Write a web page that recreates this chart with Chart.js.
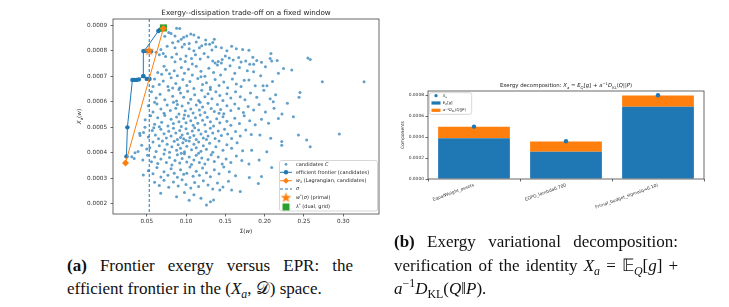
<!DOCTYPE html>
<html lang="en">
<head>
<meta charset="UTF-8">
<title>Exergy frontier and decomposition</title>
<script src="https://cdn.jsdelivr.net/npm/chart.js"></script>
<style>
  body { margin:0; background:#fff; width:729px; height:307px; position:relative; overflow:hidden; }
  canvas { position:absolute; }
  #left { left:0; top:0; }
  #right { left:370px; top:60px; }
  .cap { position:absolute; font-family:"Liberation Serif", serif; font-size:17px; line-height:23.4px; color:#111; }
  .cap div { white-space:nowrap; }
  .cap .j { white-space:normal; text-align:justify; text-align-last:justify; }
  sub, sup { font-size:70%; line-height:0; }
</style>
</head>
<body>
<canvas id="left" width="385" height="240"></canvas>
<canvas id="right" width="359" height="170"></canvas>

<div class="cap" style="left:67px; top:253.6px; width:286px;">
  <div class="j"><b>(a)</b> Frontier exergy versus EPR: the</div>
  <div>efficient frontier in the (<i>X<sub>a</sub></i>, 𝒟) space.</div>
</div>
<div class="cap" style="left:394px; top:230.3px; width:284px;">
  <div class="j"><b>(b)</b> Exergy variational decomposition:</div>
  <div class="j">verification of the identity <i>X<sub>a</sub></i> = 𝔼<sub><i>Q</i></sub>[<i>g</i>] +</div>
  <div><i>a</i><sup>−1</sup><i>D</i><sub>KL</sub>(<i>Q</i>‖<i>P</i>).</div>
</div>

<script>
// ---- left panel: candidates cloud, frontier, optimum markers ----
const candidates = [
  [0.088,0.000889],[0.092,0.000888],[0.078,0.000872],[0.081,0.000868],[0.086,0.000858],[0.097,0.000853],[0.101,0.000858],[0.106,0.000866],
  [0.110,0.000862],[0.094,0.000846],[0.073,0.000857],[0.116,0.000852],[0.125,0.000843],[0.136,0.000846],[0.134,0.000833],
  [0.083,0.000832],[0.090,0.000838],[0.098,0.000826],[0.104,0.000829],[0.113,0.000835],[0.120,0.000820],[0.130,0.000826],[0.125,0.000826],
  [0.138,0.000816],[0.133,0.000803],[0.076,0.000818],[0.068,0.000805],[0.086,0.000812],[0.095,0.000815],[0.104,0.000808],[0.110,0.000800],
  [0.117,0.000812],[0.145,0.000812],[0.152,0.000800],[0.164,0.000808],[0.172,0.000805],[0.180,0.000802],[0.158,0.000818],[0.062,0.000795],
  [0.071,0.000790],[0.208,0.000790],
  [0.066,0.000785],[0.074,0.000778],[0.082,0.000775],[0.088,0.000788],[0.093,0.000768],[0.100,0.000780],[0.107,0.000770],[0.112,0.000785],
  [0.118,0.000768],[0.123,0.000790],[0.128,0.000776],[0.134,0.000760],[0.137,0.000752],[0.141,0.000758],[0.146,0.000766],[0.150,0.000780],
  [0.155,0.000772],[0.160,0.000764],[0.167,0.000774],[0.170,0.000756],[0.176,0.000760],[0.185,0.000775],[0.190,0.000762],[0.196,0.000755],
  [0.207,0.000770],[0.216,0.000762],[0.255,0.000772],[0.258,0.000766],[0.145,0.000752],[0.099,0.000758],[0.086,0.000757],[0.209,0.000760],
  [0.181,0.000747],[0.186,0.000747],
  [0.064,0.000715],[0.069,0.000708],[0.075,0.000725],[0.079,0.000710],[0.085,0.000722],[0.089,0.000702],[0.094,0.000735],[0.098,0.000712],
  [0.103,0.000728],[0.108,0.000705],[0.113,0.000740],[0.119,0.000720],[0.124,0.000700],[0.129,0.000732],[0.135,0.000715],[0.140,0.000745],
  [0.144,0.000705],[0.150,0.000728],[0.156,0.000742],[0.162,0.000712],[0.168,0.000735],[0.178,0.000722],[0.186,0.000718],[0.195,0.000702],
  [0.201,0.000738],[0.2175,0.000712],[0.224,0.000731],[0.2345,0.000725],[0.072,0.000740],[0.108,0.000748],
  [0.060,0.000690],[0.066,0.000668],[0.071,0.000682],[0.077,0.000660],[0.081,0.000695],[0.087,0.000672],[0.092,0.000655],[0.096,0.000688],
  [0.101,0.000664],[0.105,0.000680],[0.110,0.000652],[0.115,0.000692],[0.121,0.000668],[0.126,0.000675],[0.131,0.000657],[0.137,0.000688],
  [0.142,0.000664],[0.148,0.000678],[0.153,0.000655],[0.159,0.000690],[0.164,0.000670],[0.170,0.000660],[0.174,0.000685],[0.180,0.000686],
  [0.188,0.000663],[0.198,0.000663],[0.203,0.000663],[0.210,0.000680],[0.2734,0.000679],[0.3265,0.000679],[0.058,0.000660],[0.083,0.000654],
  [0.119,0.000698],
  [0.056,0.000640],[0.062,0.000615],[0.067,0.000630],[0.073,0.000608],[0.078,0.000645],[0.083,0.000622],[0.088,0.000603],[0.093,0.000635],
  [0.097,0.000618],[0.102,0.000642],[0.106,0.000610],[0.111,0.000628],[0.116,0.000605],[0.120,0.000645],[0.124,0.000620],[0.128,0.000632],
  [0.133,0.000612],[0.138,0.000640],[0.143,0.000625],[0.147,0.000605],[0.152,0.000632],[0.157,0.000615],[0.163,0.000640],[0.169,0.000620],
  [0.175,0.000608],[0.182,0.000635],[0.190,0.000618],[0.199,0.000645],[0.207,0.000612],[0.211,0.000600],[0.2438,0.000618],[0.245,0.000637],
  [0.229,0.000594],[0.214,0.000628],[0.091,0.000648],[0.131,0.000648],
  [0.052,0.000585],[0.058,0.000560],[0.063,0.000592],[0.068,0.000572],[0.072,0.000555],[0.076,0.000588],[0.080,0.000566],[0.084,0.000598],
  [0.087,0.000575],[0.091,0.000552],[0.095,0.000584],[0.099,0.000565],[0.103,0.000595],[0.106,0.000572],[0.109,0.000556],[0.113,0.000588],
  [0.117,0.000568],[0.121,0.000580],[0.124,0.000558],[0.128,0.000594],[0.132,0.000574],[0.136,0.000562],[0.140,0.000590],[0.144,0.000570],
  [0.148,0.000553],[0.152,0.000585],[0.157,0.000566],[0.162,0.000592],[0.167,0.000574],[0.173,0.000558],[0.179,0.000582],[0.186,0.000568],
  [0.193,0.000590],[0.201,0.000560],[0.212,0.000575],[0.222,0.000552],[0.060,0.000598],[0.089,0.000590],[0.118,0.000598],[0.142,0.000555],
  [0.048,0.000530],[0.055,0.000545],[0.060,0.000512],[0.064,0.000538],[0.069,0.000520],[0.073,0.000546],[0.077,0.000505],[0.081,0.000532],
  [0.084,0.000515],[0.088,0.000541],[0.091,0.000522],[0.094,0.000503],[0.097,0.000535],[0.100,0.000518],[0.103,0.000544],[0.106,0.000526],
  [0.109,0.000508],[0.112,0.000538],[0.115,0.000516],[0.118,0.000548],[0.121,0.000528],[0.124,0.000510],[0.127,0.000540],[0.131,0.000522],
  [0.135,0.000505],[0.139,0.000534],[0.143,0.000518],[0.147,0.000542],[0.152,0.000524],[0.157,0.000508],[0.162,0.000536],[0.168,0.000515],
  [0.174,0.000545],[0.181,0.000526],[0.188,0.000510],[0.196,0.000532],[0.205,0.000516],[0.2175,0.000535],[0.2365,0.000542],[0.0478,0.000500],
  [0.066,0.000502],[0.098,0.000548],
  [0.046,0.000480],[0.052,0.000462],[0.057,0.000488],[0.061,0.000470],[0.065,0.000455],[0.068,0.000492],[0.072,0.000475],[0.075,0.000458],
  [0.078,0.000485],[0.081,0.000466],[0.084,0.000496],[0.087,0.000478],[0.089,0.000452],[0.092,0.000488],[0.095,0.000470],[0.097,0.000455],
  [0.100,0.000494],[0.102,0.000476],[0.105,0.000460],[0.108,0.000486],[0.110,0.000468],[0.113,0.000452],[0.116,0.000490],[0.119,0.000474],
  [0.122,0.000458],[0.125,0.000484],[0.128,0.000466],[0.131,0.000496],[0.134,0.000478],[0.137,0.000456],[0.141,0.000486],[0.145,0.000468],
  [0.149,0.000492],[0.153,0.000474],[0.158,0.000456],[0.163,0.000484],[0.169,0.000466],[0.176,0.000490],[0.183,0.000472],[0.194,0.000470],
  [0.2077,0.000457],[0.2218,0.000444],[0.243,0.000470],[0.2535,0.000450],[0.295,0.000474],[0.041,0.000477],[0.0415,0.000468],[0.059,0.000498],
  [0.093,0.000460],[0.111,0.000498],[0.126,0.000452],
  [0.0436,0.000430],[0.050,0.000415],[0.054,0.000420],[0.058,0.000442],[0.062,0.000405],[0.066,0.000428],[0.070,0.000446],[0.073,0.000412],
  [0.076,0.000434],[0.079,0.000402],[0.082,0.000424],[0.085,0.000445],[0.088,0.000410],[0.090,0.000432],[0.093,0.000418],[0.096,0.000440],
  [0.098,0.000404],[0.101,0.000426],[0.104,0.000446],[0.107,0.000412],[0.110,0.000434],[0.113,0.000420],[0.116,0.000442],[0.119,0.000406],
  [0.122,0.000428],[0.126,0.000414],[0.130,0.000438],[0.134,0.000402],[0.138,0.000424],[0.142,0.000446],[0.147,0.000410],[0.152,0.000432],
  [0.158,0.000418],[0.165,0.000440],[0.172,0.000408],[0.1835,0.000410],[0.2027,0.000404],[0.2218,0.000430],[0.258,0.000424],[0.0351,0.000400],
  [0.0390,0.000405],[0.100,0.000448],
  [0.031,0.000385],[0.034,0.000378],[0.045,0.000372],[0.051,0.000390],[0.056,0.000365],[0.060,0.000384],[0.064,0.000358],[0.068,0.000376],
  [0.072,0.000395],[0.075,0.000362],[0.079,0.000382],[0.082,0.000352],[0.086,0.000370],[0.089,0.000392],[0.092,0.000360],[0.095,0.000378],
  [0.098,0.000396],[0.101,0.000364],[0.104,0.000384],[0.107,0.000354],[0.110,0.000372],[0.113,0.000390],[0.117,0.000362],[0.120,0.000380],
  [0.124,0.000356],[0.128,0.000374],[0.132,0.000392],[0.136,0.000366],[0.141,0.000384],[0.146,0.000356],[0.151,0.000376],[0.157,0.000362],
  [0.164,0.000388],[0.171,0.000370],[0.180,0.000356],[0.193,0.000372],[0.094,0.000398],[0.116,0.000398],
  [0.0457,0.000313],[0.052,0.000330],[0.058,0.000318],[0.063,0.000342],[0.068,0.000305],[0.072,0.000326],[0.077,0.000312],[0.081,0.000338],
  [0.085,0.000320],[0.089,0.000304],[0.093,0.000334],[0.097,0.000316],[0.101,0.000320],[0.105,0.000344],[0.109,0.000308],[0.113,0.000328],
  [0.117,0.000312],[0.121,0.000340],[0.126,0.000322],[0.131,0.000306],[0.136,0.000334],[0.142,0.000318],[0.148,0.000344],[0.155,0.000326],
  [0.163,0.000310],[0.1805,0.000303],[0.196,0.000307],[0.209,0.000342],
  [0.060,0.000285],[0.066,0.000272],[0.072,0.000292],[0.078,0.000265],[0.084,0.000286],[0.090,0.000270],[0.095,0.000294],[0.100,0.000276],
  [0.106,0.000262],[0.111,0.000284],[0.116,0.000268],[0.122,0.000290],[0.128,0.000274],[0.134,0.000258],[0.140,0.000282],[0.147,0.000266],
  [0.154,0.000288],[0.192,0.000280],[0.143,0.000254],[0.158,0.000254],
  [0.0678,0.000241],[0.088,0.000228],[0.098,0.000244],[0.110,0.000236],[0.119,0.000222],[0.126,0.000195],[0.135,0.000215],[0.131,0.000208],
  [0.169,0.000248],[0.104,0.000214]
];

const frontierX = [0.0242, 0.0254, 0.0318, 0.0345, 0.0372, 0.0400, 0.0457, 0.0500, 0.0535, 0.0457, 0.0457, 0.0490, 0.0520, 0.0555, 0.0470, 0.0648, 0.0669];
const frontierY = [0.000386, 0.000500, 0.000686, 0.000686, 0.000686, 0.000688, 0.000701, 0.000690, 0.000690, 0.000701, 0.000799, 0.000800, 0.000800, 0.000798, 0.000800, 0.000878, 0.000883];

const lagrangeX = [0.0230, 0.0712];
const lagrangeY = [0.000360, 0.000888];

const sigma = 0.0532;
const primalStar = [0.0530, 0.000800];
const dualSquare = [0.0712, 0.000890];

const leftTicksX = [0.05, 0.10, 0.15, 0.20, 0.25, 0.30];
const leftTicksY = [0.0002, 0.0003, 0.0004, 0.0005, 0.0006, 0.0007, 0.0008, 0.0009];

// ---- right panel: exergy decomposition ----
const methods = ['EqualWeight_assets', 'EDPO_lambda0.700', 'Primal_budget_sigma(q=0.10)'];
const expectedG = [0.000390, 0.000260, 0.000689];
const klTerm = [0.000108, 0.000098, 0.000107];
const exergyXa = [0.000500, 0.000360, 0.000800];

const BLUE = '#1f77b4', ORANGE = '#ff7f0e', GREEN = '#2ca02c';
const FONT = '"DejaVu Sans", sans-serif';

function makeStar(r, color) {
  const c = document.createElement('canvas');
  c.width = c.height = Math.ceil(2 * r + 2);
  const g = c.getContext('2d');
  g.fillStyle = color;
  g.beginPath();
  for (let i = 0; i < 10; i++) {
    const a = -Math.PI / 2 + i * Math.PI / 5;
    const rr = i % 2 ? r * 0.42 : r;
    g.lineTo(c.width / 2 + rr * Math.cos(a), c.height / 2 + rr * Math.sin(a));
  }
  g.closePath();
  g.fill();
  return c;
}
const starImg = makeStar(5.5, ORANGE);

// text with italic / sub / sup pieces: [text, flags]  i=italic b=sub p=sup
function setFont(ctx, flags, size) {
  const s = (flags.includes('b') || flags.includes('p')) ? size * 0.7 : size;
  ctx.font = (flags.includes('i') ? 'italic ' : '') + s + 'px ' + FONT;
}
function richWidth(ctx, parts, size) {
  let w = 0;
  parts.forEach(p => { setFont(ctx, p[1] || '', size); w += ctx.measureText(p[0]).width; });
  return w;
}
function drawRich(ctx, parts, x, y, size, align) {
  let cx = x;
  const w = richWidth(ctx, parts, size);
  if (align === 'center') cx = x - w / 2;
  ctx.textBaseline = 'middle';
  ctx.textAlign = 'left';
  parts.forEach(p => {
    const f = p[1] || '';
    setFont(ctx, f, size);
    let dy = 0;
    if (f.includes('b')) dy = size * 0.3;
    if (f.includes('p')) dy = -size * 0.35;
    ctx.fillText(p[0], cx, y + dy);
    cx += ctx.measureText(p[0]).width;
  });
}

function drawHandle(ctx, kind, cx, cy, w) {
  ctx.save();
  if (kind === 'dot') {
    ctx.fillStyle = 'rgba(31,119,180,0.7)';
    ctx.beginPath(); ctx.arc(cx, cy, 1.4, 0, Math.PI * 2); ctx.fill();
  } else if (kind === 'lineDot' || kind === 'lineDiamond') {
    const col = kind === 'lineDot' ? BLUE : ORANGE;
    ctx.strokeStyle = col; ctx.fillStyle = col; ctx.lineWidth = 1;
    ctx.beginPath(); ctx.moveTo(cx - w / 2, cy); ctx.lineTo(cx + w / 2, cy); ctx.stroke();
    ctx.beginPath();
    if (kind === 'lineDot') ctx.arc(cx, cy, 2.2, 0, Math.PI * 2);
    else { ctx.moveTo(cx, cy - 3); ctx.lineTo(cx + 3, cy); ctx.lineTo(cx, cy + 3); ctx.lineTo(cx - 3, cy); ctx.closePath(); }
    ctx.fill();
  } else if (kind === 'dash') {
    ctx.strokeStyle = BLUE; ctx.lineWidth = 1; ctx.setLineDash([3, 2]);
    ctx.beginPath(); ctx.moveTo(cx - w / 2, cy); ctx.lineTo(cx + w / 2, cy); ctx.stroke();
  } else if (kind === 'star') {
    ctx.drawImage(starImg, cx - starImg.width / 2, cy - starImg.height / 2);
  } else if (kind === 'square') {
    ctx.fillStyle = GREEN; ctx.fillRect(cx - 3.5, cy - 3.5, 7, 7);
  } else if (kind === 'xa') {
    ctx.fillStyle = BLUE;
    ctx.beginPath(); ctx.arc(cx, cy, 1.6, 0, Math.PI * 2); ctx.fill();
  } else if (kind === 'patchBlue' || kind === 'patchOrange') {
    ctx.fillStyle = kind === 'patchBlue' ? BLUE : ORANGE;
    ctx.fillRect(cx - w / 2, cy - 1.6, w, 3.2);
  }
  ctx.restore();
}

const decorCfg = {
  left: {
    title: [['Exergy--dissipation trade-off on a fixed window']], titleY: 13.3, titleSize: 7.2,
    xTitle: [['Σ('], ['w', 'i'], [')']], xTitleY: 232, ySize: 5.7,
    yTitle: [['X', 'i'], ['a', 'ib'], ['('], ['w', 'i'], [')']], yTitleX: 80,
    vline: sigma,
    legend: {
      box: [279.5, 160.5, 377.5, 211], hx: 286, hw: 12, tx: 296, size: 5,
      rows: [
        [164.3, 'dot', [['candidates '], ['C', 'i']]],
        [172.3, 'lineDot', [['efficient frontier (candidates)']]],
        [180.7, 'lineDiamond', [['w', 'i'], ['λ', 'ib'], [' (Lagrangian, candidates)']]],
        [189, 'dash', [['σ', 'i']]],
        [197.7, 'star', [['w', 'i'], ['*', 'p'], ['('], ['σ', 'i'], [') (primal)']]],
        [207, 'square', [['λ', 'i'], ['*', 'p'], [' (dual, grid)']]]
      ]
    }
  },
  right: {
    title: [['Exergy decomposition: '], ['X', 'i'], ['a', 'ib'], [' = '], ['E', 'i'], ['Q', 'ib'], ['['], ['g', 'i'], ['] + '],
            ['a', 'i'], ['−1', 'p'], ['D', 'i'], ['KL', 'b'], ['('], ['Q', 'i'], ['||'], ['P', 'i'], [')']],
    titleY: 26, titleSize: 5.4,
    yTitle: [['Components']], yTitleX: 33, ySize: 4.4,
    legend: {
      box: [59.3, 32.7, 101.7, 54.3], hx: 66, hw: 9, tx: 72.7, size: 3.8,
      rows: [
        [35.7, 'xa', [['X', 'i'], ['a', 'ib']]],
        [43, 'patchBlue', [['E', 'i'], ['Q', 'ib'], ['['], ['g', 'i'], [']']]],
        [50.3, 'patchOrange', [['a', 'i'], ['−1', 'p'], ['D', 'i'], ['KL', 'b'], ['('], ['Q', 'i'], ['||'], ['P', 'i'], [')']]]
      ]
    }
  }
};

const decor = {
  id: 'decor',
  beforeDatasetsDraw(chart) {
    const o = decorCfg[chart.canvas.id];
    if (o.vline === undefined) return;
    const ctx = chart.ctx, a = chart.chartArea;
    const x = chart.scales.x.getPixelForValue(o.vline);
    ctx.save();
    ctx.strokeStyle = BLUE; ctx.lineWidth = 1; ctx.setLineDash([3, 2]);
    ctx.beginPath(); ctx.moveTo(x, a.top); ctx.lineTo(x, a.bottom); ctx.stroke();
    ctx.restore();
  },
  afterDraw(chart) {
    const o = decorCfg[chart.canvas.id];
    const ctx = chart.ctx, a = chart.chartArea;
    ctx.save();
    ctx.strokeStyle = '#444'; ctx.lineWidth = 0.8;
    ctx.strokeRect(a.left, a.top, a.right - a.left, a.bottom - a.top);
    ctx.fillStyle = '#222';
    drawRich(ctx, o.title, (a.left + a.right) / 2, o.titleY, o.titleSize, 'center');
    if (o.xTitle) drawRich(ctx, o.xTitle, (a.left + a.right) / 2, o.xTitleY, o.ySize, 'center');
    ctx.save();
    ctx.translate(o.yTitleX, (a.top + a.bottom) / 2);
    ctx.rotate(-Math.PI / 2);
    drawRich(ctx, o.yTitle, 0, 0, o.ySize, 'center');
    ctx.restore();
    const L = o.legend, b = L.box;
    ctx.fillStyle = 'rgba(255,255,255,0.8)';
    ctx.strokeStyle = '#ccc'; ctx.lineWidth = 0.8;
    ctx.beginPath(); ctx.roundRect(b[0], b[1], b[2] - b[0], b[3] - b[1], 2); ctx.fill(); ctx.stroke();
    L.rows.forEach(r => {
      drawHandle(ctx, r[1], L.hx, r[0], L.hw);
      ctx.fillStyle = '#222';
      drawRich(ctx, r[2], L.tx, r[0], L.size, 'left');
    });
    ctx.restore();
  }
};

function axisOpts(size) {
  return {
    grid: { drawOnChartArea: false, color: '#444', tickLength: 2.5, tickWidth: 0.8 },
    border: { display: false },
    ticks: { color: '#333', font: { family: FONT, size: size } }
  };
}

// left chart
const lx = axisOpts(5.7), ly = axisOpts(5.7);
new Chart(document.getElementById('left'), {
  type: 'scatter',
  data: {
    datasets: [
      { label: 'candidates', data: candidates.map(p => ({ x: p[0], y: p[1] })), order: 6,
        pointRadius: 1.5, pointBackgroundColor: 'rgba(31,119,180,0.7)', pointBorderWidth: 0 },
      { label: 'efficient frontier', data: frontierX.map((x, i) => ({ x: x, y: frontierY[i] })), order: 5,
        showLine: true, borderColor: BLUE, borderWidth: 1, pointRadius: 2.2, pointBackgroundColor: BLUE, pointBorderWidth: 0 },
      { label: 'dual', data: [{ x: dualSquare[0], y: dualSquare[1] }], order: 4,
        pointStyle: 'rect', pointRadius: 5, pointBackgroundColor: GREEN, pointBorderWidth: 0 },
      { label: 'lagrangian', data: lagrangeX.map((x, i) => ({ x: x, y: lagrangeY[i] })), order: 3,
        showLine: true, borderColor: ORANGE, borderWidth: 1, pointStyle: 'rectRot', pointRadius: 3.5,
        pointBackgroundColor: ORANGE, pointBorderWidth: 0 },
      { label: 'primal', data: [{ x: primalStar[0], y: primalStar[1] }], order: 2, pointStyle: starImg }
    ]
  },
  options: {
    responsive: false, animation: false, events: [],
    layout: { padding: { top: 19, right: 6, left: 0, bottom: 0 } },
    plugins: { legend: { display: false }, tooltip: { enabled: false } },
    scales: {
      x: Object.assign(lx, {
        type: 'linear', min: 0.0071, max: 0.3455,
        afterFit: s => { s.height = 26; },
        afterBuildTicks: s => { s.ticks = leftTicksX.map(v => ({ value: v })); },
        ticks: Object.assign(lx.ticks, { padding: 1.5, callback: v => v.toFixed(2) })
      }),
      y: Object.assign(ly, {
        type: 'linear', min: 0.00016, max: 0.000925,
        afterFit: s => { s.width = 113; },
        afterBuildTicks: s => { s.ticks = leftTicksY.map(v => ({ value: v })); },
        ticks: Object.assign(ly.ticks, { padding: 3.5, callback: v => v.toFixed(4) })
      })
    }
  },
  plugins: [decor]
});

// right chart: E_Q[g] stacked first (bottom), KL term on top, X_a markers above
const rx = axisOpts(4.4), ry = axisOpts(4.4);
new Chart(document.getElementById('right'), {
  type: 'bar',
  data: {
    labels: methods,
    datasets: [
      { type: 'line', label: 'Xa', data: exergyXa, stack: 'pts', showLine: false, order: 0,
        pointRadius: 2.2, pointBackgroundColor: BLUE, pointBorderWidth: 0, borderColor: BLUE },
      { label: 'E_Q[g]', data: expectedG, stack: 'bars', backgroundColor: BLUE, order: 1,
        categoryPercentage: 1, barPercentage: 0.78 },
      { label: 'KL', data: klTerm, stack: 'bars', backgroundColor: ORANGE, order: 2,
        categoryPercentage: 1, barPercentage: 0.78 }
    ]
  },
  options: {
    responsive: false, animation: false, events: [],
    layout: { padding: { top: 31, right: 25, left: 0, bottom: 0 } },
    plugins: { legend: { display: false }, tooltip: { enabled: false } },
    scales: {
      x: Object.assign(rx, {
        stacked: true,
        afterFit: s => { s.height = 51; },
        ticks: Object.assign(rx.ticks, { padding: 1, minRotation: 20, maxRotation: 20, autoSkip: false })
      }),
      y: Object.assign(ry, {
        stacked: true, min: 0, max: 0.00084,
        afterFit: s => { s.width = 58; },
        ticks: Object.assign(ry.ticks, { stepSize: 0.0002, includeBounds: false, padding: 1.5, callback: v => v.toFixed(4) })
      })
    }
  },
  plugins: [decor]
});
</script>
</body>
</html>
